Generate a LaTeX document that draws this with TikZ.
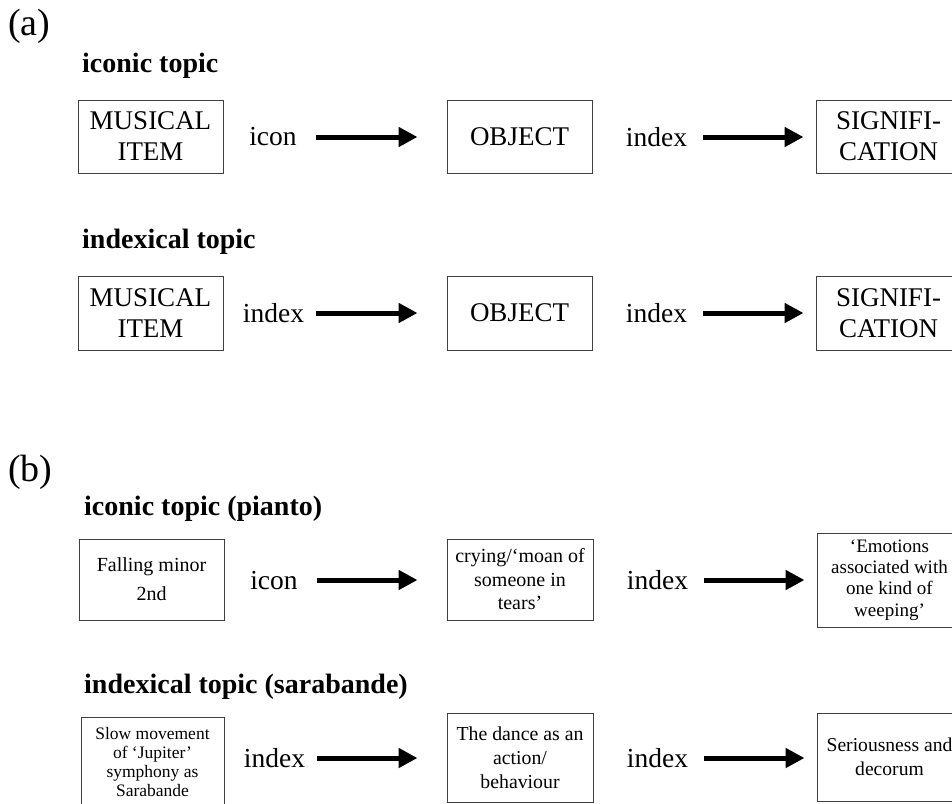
\documentclass[tikz,border=0pt]{standalone}
\usepackage{fontspec}
\setmainfont{Liberation Serif}
\usetikzlibrary{arrows.meta}
\begin{document}
\begin{tikzpicture}[x=1pt,y=-1pt,
  box/.style={draw=black!75, line width=1pt, inner sep=0pt, align=center, font=\fontsize{27}{31}\selectfont},
  sbox/.style={draw=black!75, line width=1pt, inner sep=0pt, align=center},
  lbl/.style={inner sep=0pt, font=\fontsize{27.5}{30}\selectfont},
  head/.style={anchor=base west, inner sep=0pt, font=\fontsize{28}{32}\selectfont\bfseries},
  part/.style={anchor=base west, inner sep=0pt, font=\fontsize{38}{42}\selectfont},
  arr/.style={line width=5pt, -{Triangle[length=19pt,width=19pt]}}]
\useasboundingbox (0,0) rectangle (952,803);
\clip (0,0) rectangle (952,803);

% ---------- (a) ----------
\node[part] (pa) at (8,35) {(a)};
\node[head] (ha1) at (82,72) {iconic topic};
\node[box, minimum width=145pt, minimum height=73pt] (a1) at (150.5,136.5) {MUSICAL\\ITEM};
\node[box, minimum width=145pt, minimum height=73pt] (a2) at (519.5,136.5) {OBJECT};
\node[box, minimum width=145pt, minimum height=73pt] (a3) at (888.5,136.5) {SIGNIFI-\\CATION};
\node[lbl] (la1) at (273,137) {icon};
\node[lbl] (la2) at (656.5,137) {index};
\coordinate (sa1) at (316,137);
\coordinate (sa2) at (703,137);
\draw[arr, shorten >=29pt] (sa1) -- (a2.west |- sa1);
\draw[arr, shorten >=12pt] (sa2) -- (a3.west |- sa2);

\node[head] (ha2) at (82,248) {indexical topic};
\node[box, minimum width=145pt, minimum height=74pt] (a4) at (150.5,313) {MUSICAL\\ITEM};
\node[box, minimum width=145pt, minimum height=74pt] (a5) at (519.5,313) {OBJECT};
\node[box, minimum width=145pt, minimum height=74pt] (a6) at (888.5,313) {SIGNIFI-\\CATION};
\node[lbl] (la3) at (273.5,313) {index};
\node[lbl] (la4) at (656.5,313) {index};
\coordinate (sa3) at (316,313);
\coordinate (sa4) at (703,313);
\draw[arr, shorten >=29pt] (sa3) -- (a5.west |- sa3);
\draw[arr, shorten >=12pt] (sa4) -- (a6.west |- sa4);

% ---------- (b) ----------
\node[part] (pb) at (8,481) {(b)};
\node[head] (hb1) at (84,515) {iconic topic (pianto)};
\node[sbox, minimum width=145pt, minimum height=81pt, font=\fontsize{20}{29}\selectfont] (b1) at (151.5,579.5) {Falling minor\\2nd};
\node[sbox, minimum width=146pt, minimum height=81pt, font=\fontsize{20}{23.5}\selectfont] (b2) at (520,579.5) {crying/‘moan of\\someone in\\tears’};
\node[sbox, minimum width=145pt, minimum height=94pt, font=\fontsize{19}{21.3}\selectfont] (b3) at (889.5,580) {‘Emotions\\associated with\\one kind of\\weeping’};
\node[lbl] (lb1) at (274,580.5) {icon};
\node[lbl] (lb2) at (657.5,580) {index};
\coordinate (sb1) at (317,580);
\coordinate (sb2) at (704,580);
\draw[arr, shorten >=29pt] (sb1) -- (b2.west |- sb1);
\draw[arr, shorten >=12pt] (sb2) -- (b3.west |- sb2);

\node[head] (hb2) at (84,693) {indexical topic (sarabande)};
\node[sbox, minimum width=143pt, minimum height=90pt, font=\fontsize{17.5}{19.3}\selectfont] (b4) at (152.5,762) {Slow movement\\of ‘Jupiter’\\symphony as\\Sarabande};
\node[sbox, minimum width=146pt, minimum height=89pt, font=\fontsize{19.8}{24}\selectfont] (b5) at (520,757.5) {The dance as an\\action/\\behaviour};
\node[sbox, minimum width=145pt, minimum height=88pt, font=\fontsize{19.6}{24}\selectfont] (b6) at (889.5,757) {Seriousness and\\decorum};
\node[lbl] (lb3) at (274.5,758) {index};
\node[lbl] (lb4) at (657.5,758) {index};
\coordinate (sb3) at (317,758);
\coordinate (sb4) at (704,758);
\draw[arr, shorten >=29pt] (sb3) -- (b5.west |- sb3);
\draw[arr, shorten >=12pt] (sb4) -- (b6.west |- sb4);
\end{tikzpicture}
\end{document}
